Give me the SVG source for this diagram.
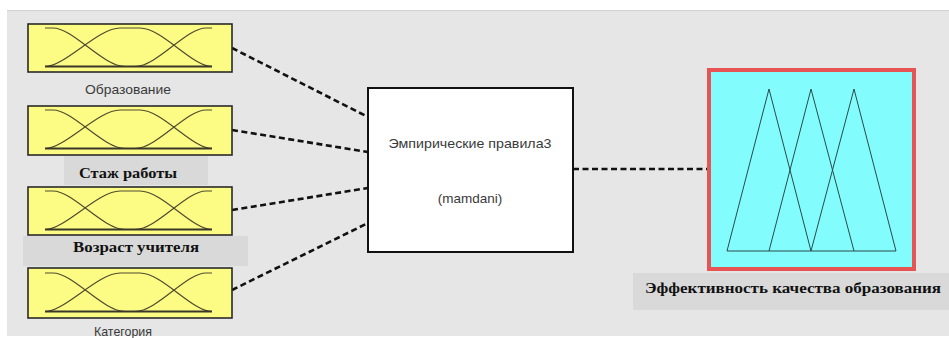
<svg xmlns="http://www.w3.org/2000/svg" xmlns:xlink="http://www.w3.org/1999/xlink" width="949" height="338" viewBox="0 0 949 338">
  <style>
    .inbox { fill: #fcfc84; stroke: #2a2a2a; stroke-width: 1.6; }
    .mf { fill: none; stroke: #4f4a30; stroke-width: 1.2; }
    .mfbase { fill: none; stroke: #3a3628; stroke-width: 2; }
    .conn { fill: none; stroke: #111; stroke-width: 2.6; stroke-dasharray: 6 3.5; }
    .sans { font-family: "Liberation Sans", Arial, sans-serif; font-size: 13.5px; fill: #3a3a3a; }
    .serif { font-family: "Liberation Serif", "Times New Roman", serif; font-weight: bold; font-size: 14px; fill: #111; }
    .lblbg { fill: #d9d9d9; }
    .tri { fill: none; stroke: #2c4a4a; stroke-width: 1; }
  </style>
  <defs>
    <g id="mfset">
      <path class="mf" d="M17,4 L25,4 C45,4 75,42.5 97,42.5"/>
      <path class="mf" d="M17,42.5 C37,42.5 70,4 92,4 L112,4 C134,4 164,42.5 184,42.5"/>
      <path class="mf" d="M107,42.5 C129,42.5 158,4 178,4 L184,4"/>
      <path class="mfbase" d="M17,42.5 L184,42.5"/>
    </g>
  </defs>

  <rect x="0" y="0" width="949" height="338" fill="#ffffff"/>
  <rect x="7" y="10" width="942" height="326" fill="#e6e6e6"/>
  <line x1="7" y1="10.5" x2="949" y2="10.5" stroke="#d2d2d2" stroke-width="1"/>

  <g id="connectors">
    <path class="conn" d="M232,48 L368,117"/>
    <path class="conn" d="M232,130 L368,152"/>
    <path class="conn" d="M232,210 L368,188"/>
    <path class="conn" d="M232,290 L368,223"/>
    <path class="conn" d="M573,169 L708,169"/>
  </g>

  <g id="input-obrazovanie">
    <rect class="inbox" x="28" y="24" width="204" height="48"/>
    <use xlink:href="#mfset" x="28" y="24"/>
    <text class="sans" x="128" y="94" text-anchor="middle" textLength="86" lengthAdjust="spacingAndGlyphs">Образование</text>
  </g>

  <g id="input-stazh">
    <rect class="inbox" x="28" y="106" width="204" height="49"/>
    <use xlink:href="#mfset" x="28" y="106"/>
    <rect class="lblbg" x="64" y="156" width="144" height="29"/>
    <text class="serif" x="128" y="178" text-anchor="middle" textLength="98" lengthAdjust="spacingAndGlyphs">Стаж работы</text>
  </g>

  <g id="input-vozrast">
    <rect class="inbox" x="28" y="187" width="204" height="48"/>
    <use xlink:href="#mfset" x="28" y="187"/>
    <rect class="lblbg" x="23" y="236" width="225" height="30"/>
    <text class="serif" x="136" y="252" text-anchor="middle" textLength="126" lengthAdjust="spacingAndGlyphs">Возраст учителя</text>
  </g>

  <g id="input-kategoriya">
    <rect class="inbox" x="28" y="268" width="204" height="50"/>
    <use xlink:href="#mfset" x="28" y="269"/>
    <text class="sans" x="123" y="336" text-anchor="middle" textLength="58" lengthAdjust="spacingAndGlyphs">Категория</text>
  </g>

  <g id="rules">
    <rect x="368" y="88" width="205" height="164" fill="#ffffff" stroke="#111" stroke-width="2"/>
    <text class="sans" x="470" y="148" text-anchor="middle" textLength="163" lengthAdjust="spacingAndGlyphs">Эмпирические правила3</text>
    <text class="sans" x="470" y="203" text-anchor="middle">(mamdani)</text>
  </g>

  <g id="output">
    <rect x="709" y="70" width="205" height="199" fill="#82fcfc" stroke="#e65454" stroke-width="4"/>
    <path class="tri" d="M727,251 L769,89 L811,251"/>
    <path class="tri" d="M769,251 L811,89 L854,251"/>
    <path class="tri" d="M811,251 L854,89 L896,251"/>
    <path class="tri" d="M727,251 L896,251" stroke-width="1.5"/>
    <rect class="lblbg" x="633" y="273" width="316" height="37"/>
    <text class="serif" x="645" y="293" textLength="296" lengthAdjust="spacingAndGlyphs">Эффективность качества образования</text>
  </g>
</svg>
